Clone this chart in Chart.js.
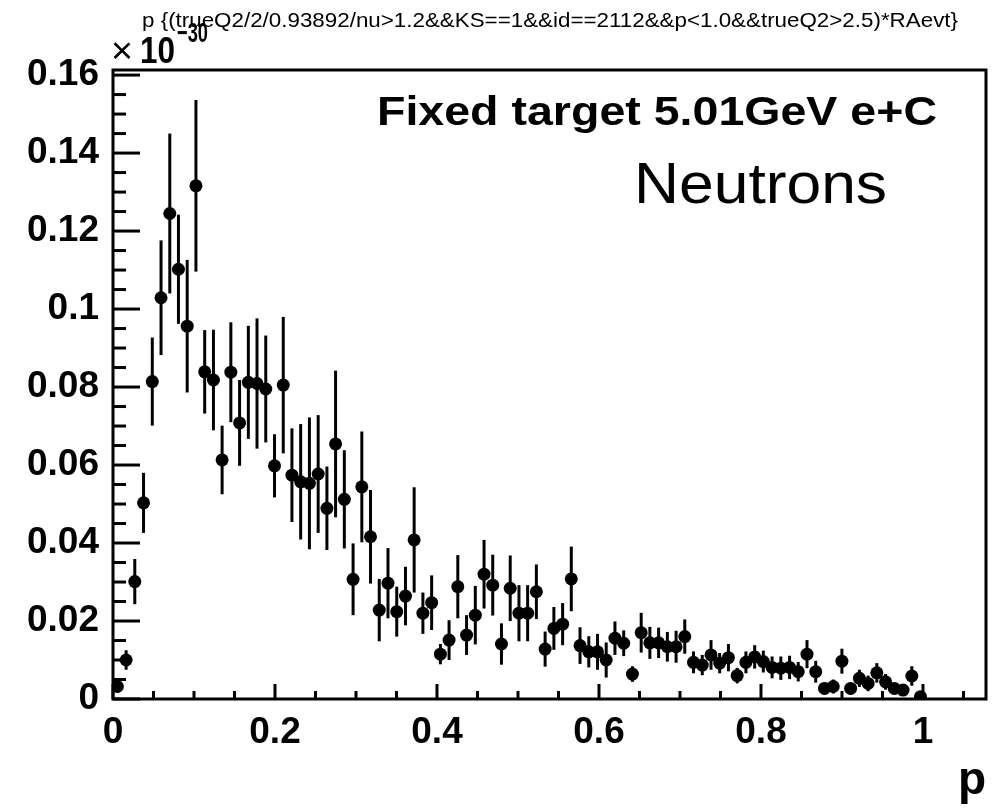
<!DOCTYPE html>
<html>
<head>
<meta charset="utf-8">
<title>Neutrons p</title>
<script src="https://cdn.jsdelivr.net/npm/chart.js@4.4.0/dist/chart.umd.min.js"></script>
<style>
  html, body { margin: 0; padding: 0; background: #fff; }
  #wrap { width: 994px; height: 811px; position: relative; }
</style>
</head>
<body>
<div id="wrap"><canvas id="neutronChart"></canvas></div>
<script>
// bin centres (100 bins over 0..1.0778, only p<1 filled)
const pBins = [
  0.0054, 0.0162, 0.0269, 0.0377, 0.0485, 0.0593, 0.0701, 0.0808, 0.0916, 0.1024,
  0.1132, 0.1240, 0.1347, 0.1455, 0.1563, 0.1671, 0.1778, 0.1886, 0.1994, 0.2102,
  0.2209, 0.2317, 0.2425, 0.2533, 0.2641, 0.2748, 0.2856, 0.2964, 0.3072, 0.3179,
  0.3287, 0.3395, 0.3503, 0.3611, 0.3718, 0.3826, 0.3934, 0.4042, 0.4149, 0.4257,
  0.4365, 0.4473, 0.4581, 0.4688, 0.4796, 0.4904, 0.5012, 0.5119, 0.5227, 0.5335,
  0.5443, 0.5551, 0.5658, 0.5766, 0.5874, 0.5982, 0.6089, 0.6197, 0.6305, 0.6413,
  0.6521, 0.6628, 0.6736, 0.6844, 0.6952, 0.7059, 0.7167, 0.7275, 0.7383, 0.7490,
  0.7598, 0.7706, 0.7814, 0.7922, 0.8029, 0.8137, 0.8245, 0.8353, 0.8460, 0.8568,
  0.8676, 0.8784, 0.8892, 0.8999, 0.9107, 0.9215, 0.9323, 0.9430, 0.9538, 0.9646,
  0.9754, 0.9862, 0.9969
];

// in units of 1e-30
const yields = [
  0.0032, 0.0100, 0.0301, 0.0503, 0.0814, 0.1029, 0.1245, 0.1102, 0.0956, 0.1316,
  0.0839, 0.0818, 0.0613, 0.0838, 0.0708, 0.0812, 0.0809, 0.0795, 0.0598, 0.0805,
  0.0574, 0.0557, 0.0553, 0.0577, 0.0489, 0.0654, 0.0512, 0.0307, 0.0544, 0.0416,
  0.0228, 0.0297, 0.0224, 0.0264, 0.0408, 0.0220, 0.0247, 0.0115, 0.0151, 0.0288,
  0.0164, 0.0215, 0.0320, 0.0292, 0.0141, 0.0284, 0.0220, 0.0220, 0.0275, 0.0128,
  0.0181, 0.0192, 0.0308, 0.0137, 0.0121, 0.0121, 0.0100, 0.0156, 0.0143, 0.0064,
  0.0170, 0.0144, 0.0144, 0.0134, 0.0134, 0.0160, 0.0094, 0.0087, 0.0113, 0.0092,
  0.0106, 0.0060, 0.0094, 0.0108, 0.0096, 0.0081, 0.0079, 0.0081, 0.0070, 0.0115,
  0.0070, 0.0027, 0.0032, 0.0097, 0.0027, 0.0053, 0.0040, 0.0067, 0.0044, 0.0027,
  0.0023, 0.0059, 0.0006
];

const yieldErrors = [
  0.0015, 0.0025, 0.0058, 0.0077, 0.0113, 0.0147, 0.0205, 0.0140, 0.0170, 0.0220,
  0.0107, 0.0129, 0.0088, 0.0128, 0.0110, 0.0145, 0.0167, 0.0137, 0.0081, 0.0175,
  0.0120, 0.0148, 0.0169, 0.0151, 0.0107, 0.0188, 0.0126, 0.0092, 0.0142, 0.0120,
  0.0080, 0.0090, 0.0064, 0.0075, 0.0135, 0.0053, 0.0070, 0.0026, 0.0051, 0.0081,
  0.0051, 0.0075, 0.0088, 0.0078, 0.0053, 0.0084, 0.0072, 0.0072, 0.0070, 0.0045,
  0.0055, 0.0054, 0.0083, 0.0047, 0.0040, 0.0046, 0.0045, 0.0043, 0.0033, 0.0020,
  0.0051, 0.0041, 0.0039, 0.0038, 0.0041, 0.0044, 0.0028, 0.0026, 0.0038, 0.0026,
  0.0035, 0.0020, 0.0028, 0.0030, 0.0028, 0.0028, 0.0030, 0.0030, 0.0025, 0.0036,
  0.0028, 0.0015, 0.0018, 0.0032, 0.0015, 0.0022, 0.0020, 0.0025, 0.0020, 0.0015,
  0.0015, 0.0025, 0.0006
];

const xTickValues = [0, 0.2, 0.4, 0.6, 0.8, 1];
const yTickValues = [0, 0.02, 0.04, 0.06, 0.08, 0.1, 0.12, 0.14, 0.16];
const xRange = [0, 1.0778];
const yRange = [0, 0.1613];

const titleText = 'p {(trueQ2/2/0.93892/nu>1.2&&KS==1&&id==2112&&p<1.0&&trueQ2>2.5)*RAevt}';
const label1 = 'Fixed target 5.01GeV e+C';
const label2 = 'Neutrons';

Chart.defaults.font.family = '"Liberation Sans", Arial, sans-serif';
Chart.defaults.color = '#000';

function fitText(ctx, str, x, y, w, font) {
    ctx.font = font;
    const s = w / ctx.measureText(str).width;
    ctx.save();
    ctx.translate(x, y);
    ctx.scale(s, 1);
    ctx.fillText(str, 0, 0);
    ctx.restore();
}

function tickLine(ctx, x1, y1, x2, y2) {
    ctx.beginPath();
    ctx.moveTo(x1, y1);
    ctx.lineTo(x2, y2);
    ctx.stroke();
}

const errorBars = {
    id: 'errorBars',
    beforeDatasetsDraw(chart) {
        const { ctx, scales: { y } } = chart;
        const meta = chart.getDatasetMeta(0);
        ctx.save();
        ctx.strokeStyle = '#000';
        ctx.lineWidth = 3;
        meta.data.forEach((pt, i) => {
            const e = yieldErrors[i];
            tickLine(ctx, pt.x, y.getPixelForValue(yields[i] - e), pt.x, y.getPixelForValue(yields[i] + e));
        });
        ctx.restore();
    }
};

const rootFrame = {
    id: 'rootFrame',
    afterDraw(chart) {
        const { ctx, chartArea: a, scales: { x, y } } = chart;
        ctx.save();
        ctx.strokeStyle = '#000';
        ctx.lineWidth = 3;
        ctx.strokeRect(a.left, a.top, a.right - a.left, a.bottom - a.top);

        // x ticks: major every 0.2, minor every 0.05
        for (let k = 0; k * 0.05 <= xRange[1]; k++) {
            const px = x.getPixelForValue(k * 0.05);
            tickLine(ctx, px, a.bottom, px, a.bottom - (k % 4 === 0 ? 15 : 8));
        }
        // y ticks: major every 0.02, minor every 0.005
        for (let k = 0; k * 0.005 <= yRange[1]; k++) {
            const py = y.getPixelForValue(k * 0.005);
            tickLine(ctx, a.left, py, a.left + (k % 4 === 0 ? 27 : 13), py);
        }

        ctx.fillStyle = '#000';
        ctx.textBaseline = 'alphabetic';
        fitText(ctx, titleText, 142, 27, 816, '21px "Liberation Sans"');

        // axis exponent
        fitText(ctx, '\u00d7', 111, 63, 22, '36px "Liberation Sans"');
        fitText(ctx, '10', 140, 63, 35, 'bold 36px "Liberation Sans"');
        fitText(ctx, '\u221230', 177, 42, 31, 'bold 28px "Liberation Sans"');

        fitText(ctx, label1, 377, 125, 560, 'bold 41px "Liberation Sans"');
        fitText(ctx, label2, 634, 203, 253, '57px "Liberation Sans"');
        ctx.restore();
    }
};

new Chart(document.getElementById('neutronChart'), {
    type: 'scatter',
    data: {
        datasets: [{
            data: pBins.map((p, i) => ({ x: p, y: yields[i] })),
            backgroundColor: '#000',
            borderWidth: 0,
            pointRadius: 6.5,
            pointHoverRadius: 6.5
        }]
    },
    options: {
        responsive: true,
        maintainAspectRatio: false,
        animation: false,
        layout: { padding: { left: 0, right: 8, top: 70, bottom: 0 } },
        plugins: {
            legend: { display: false },
            tooltip: { enabled: false },
            title: { display: false }
        },
        scales: {
            x: {
                type: 'linear',
                min: xRange[0],
                max: xRange[1],
                grid: { display: false, drawTicks: false },
                border: { display: false },
                afterBuildTicks: s => { s.ticks = xTickValues.map(v => ({ value: v })); },
                afterFit: s => { s.height = 112; },
                ticks: {
                    maxRotation: 0,
                    padding: 12,
                    font: { size: 37, weight: 'bold' },
                    callback: v => String(Number(v.toFixed(2)))
                },
                title: {
                    display: true,
                    text: 'p',
                    align: 'end',
                    padding: { top: 0, bottom: 2 },
                    font: { size: 46, weight: 'bold' }
                }
            },
            y: {
                type: 'linear',
                min: yRange[0],
                max: yRange[1],
                grid: { display: false, drawTicks: false },
                border: { display: false },
                afterBuildTicks: s => { s.ticks = yTickValues.map(v => ({ value: v })); },
                afterFit: s => { s.width = 113; },
                ticks: {
                    padding: 14,
                    font: { size: 37, weight: 'bold' },
                    callback: v => String(Number(v.toFixed(2)))
                }
            }
        }
    },
    plugins: [errorBars, rootFrame]
});
</script>
</body>
</html>
